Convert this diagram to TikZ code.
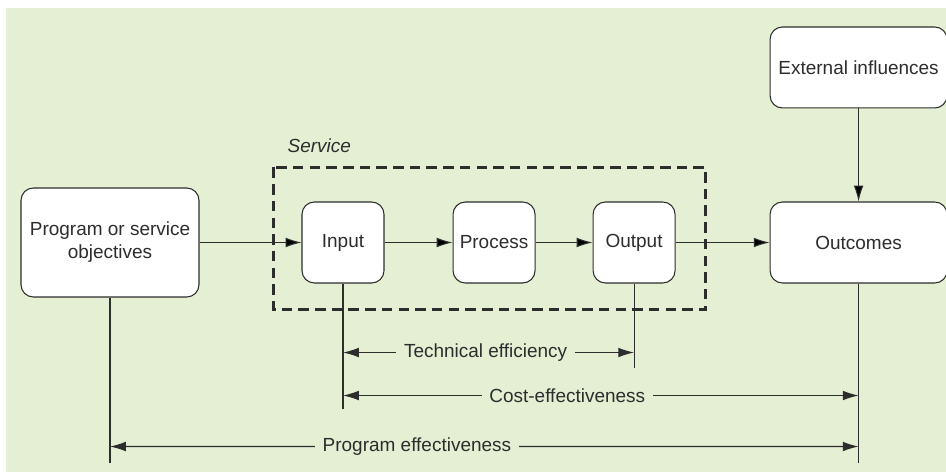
\documentclass[tikz,border=0pt]{standalone}
\usepackage{fontspec}
\setmainfont{Liberation Sans}
\usepackage{tikz}
\usetikzlibrary{calc,positioning,arrows.meta,backgrounds}
\definecolor{bggreen}{RGB}{228,239,211}
\definecolor{ink}{RGB}{45,45,45}

\begin{document}
\begin{tikzpicture}[x=0.02cm,y=-0.02cm,
		font=\fontsize{10.8}{13}\selectfont,
		box/.style={draw=ink,fill=white,line width=0.6pt,rounded corners=7pt,align=center,text=ink,inner sep=0pt},
		small/.style={box,minimum width=1.64cm,minimum height=1.62cm},
		wide/.style={box,minimum width=3.54cm,minimum height=1.62cm},
		flow/.style={draw=ink,line width=0.6pt,-{Latex[length=9pt,width=5.5pt]}},
		rule/.style={draw=ink,line width=0.6pt},
		dim/.style={draw=ink,line width=0.6pt,{Latex[length=9pt,width=5.5pt]}-{Latex[length=9pt,width=5.5pt]}},
		tag/.style={fill=bggreen,text=ink,inner xsep=4.5pt,inner ysep=1pt}]
		\useasboundingbox (0,0) rectangle (946,472);
		\fill[bggreen] (6,8) rectangle (946,472);
		\node(1) [box,minimum width=3.56cm,minimum height=2.18cm] at (110,242.5) {Program or service\\objectives};
		\node(2) [small,right=2.04cm of 1] {Input};
		\node(3) [small,right=1.36cm of 2] {Process};
		\node(4) [small,right=1.14cm of 3] {Output};
		\node(5) [wide,right=1.88cm of 4] {Outcomes};
		\node(6) [wide,above=1.86cm of 5] {External influences};
		\draw[ink,line width=1.7pt,dash pattern=on 6pt off 3.5pt] ($(2.north west)+(-28,-34)$) rectangle ($(4.south east)+(30,26)$);
		\node [anchor=west,text=ink,font=\fontsize{10.8}{13}\selectfont\itshape] at ($(2.north west)+(-20,-56)$) {Service};
		\path[flow]
			(1) edge (2)
			(2) edge (3)
			(3) edge (4)
			(4) edge (5)
			(6) edge (5);
		\coordinate (a) at ($(1.south)+(0,165)$);
		\coordinate (b) at ($(2.south)+(0,125)$);
		\coordinate (c) at ($(4.south)+(0,84)$);
		\coordinate (d) at ($(5.south)+(0,179)$);
		\draw[rule] (1.south) -- (a);
		\draw[rule] (2.south) -- (b);
		\draw[rule] (4.south) -- (c);
		\draw[rule] (5.south) -- (d);
		\coordinate (t1) at ($(b)+(0,-56)$);
		\coordinate (t2) at ($(c)+(0,-15)$);
		\coordinate (c1) at ($(b)+(0,-13)$);
		\coordinate (c2) at ($(d)+(0,-67)$);
		\coordinate (p1) at ($(a)+(0,-16)$);
		\coordinate (p2) at ($(d)+(0,-16)$);
		\draw[dim] (t1) -- node[tag,pos=0.49] {Technical efficiency} (t2);
		\draw[dim] (c1) -- node[tag,pos=0.435] {Cost-effectiveness} (c2);
		\draw[dim] (p1) -- node[tag,pos=0.41] {Program effectiveness} (p2);
	\end{tikzpicture}
\end{document}
